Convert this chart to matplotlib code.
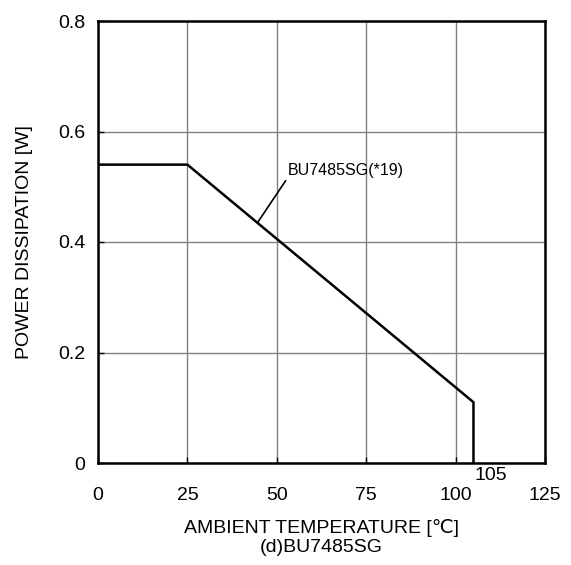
import matplotlib.pyplot as plt

plt.rcParams['font.family'] = ['Liberation Sans', 'DejaVu Sans']

# derating curve
temp = [0, 25, 105, 105]
power = [0.54, 0.54, 0.11, 0.0]

xticks = [0, 25, 50, 75, 100, 125]
yticks = [0, 0.2, 0.4, 0.6, 0.8]
yticklabels = ["0", "0.2", "0.4", "0.6", "0.8"]

fig = plt.figure(figsize=(5.71, 5.65), dpi=100)
ax = fig.add_axes([98 / 571, 1 - 463 / 565, 447 / 571, 442 / 565])

ax.plot(temp, power, color="black", linewidth=1.8)

ax.set_xlim(0, 125)
ax.set_ylim(0, 0.8)
ax.set_xticks(xticks)
ax.set_yticks(yticks)
ax.set_yticklabels(yticklabels)
ax.grid(True, color="#808080", linewidth=1)
ax.tick_params(direction="in", length=4, width=1, labelsize=14, colors="black")
ax.tick_params(axis="x", pad=17)
ax.tick_params(axis="y", pad=9)
for s in ax.spines.values():
    s.set_linewidth(1.8)

ax.set_ylabel("POWER DISSIPATION [W]", fontsize=14, labelpad=18)
ax.set_xlabel("AMBIENT TEMPERATURE [\u2103]\n(d)BU7485SG", fontsize=14, labelpad=11,
              linespacing=1.2)

# leader and label for the curve
ax.annotate("BU7485SG(*19)", xy=(44.7, 0.436), xytext=(53.0, 0.516),
            fontsize=11.5, ha="left", va="bottom",
            arrowprops=dict(arrowstyle="-", color="black", linewidth=1.2,
                            shrinkA=0, shrinkB=0, relpos=(0, 0)))

# end temperature marker below the axis
ax.annotate("105", xy=(105, 0), xycoords=("data", "axes fraction"),
            xytext=(1, -3), textcoords="offset points",
            ha="left", va="top", fontsize=14)

fig.savefig("out.png", dpi=100)
